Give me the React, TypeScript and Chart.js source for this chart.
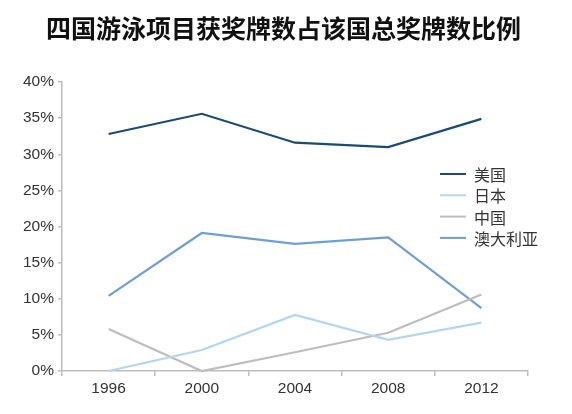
import React, { useEffect, useRef } from "react";
import { Chart, registerables } from "chart.js";

Chart.register(...registerables);

const TITLE = "四国游泳项目获奖牌数占该国总奖牌数比例";
const years = ["1996", "2000", "2004", "2008", "2012"];
const seriesNames = ["美国", "日本", "中国", "澳大利亚"];
const usa = [32.8, 35.6, 31.6, 31.0, 34.9];
const japan = [0, 2.9, 7.75, 4.3, 6.7];
const china = [5.8, 0, 2.6, 5.3, 10.6];
const australia = [10.4, 19.1, 17.6, 18.5, 8.7];
const colors = ["#1b4a74", "#b3d6ee", "#bdbdbd", "#6e9fd2"];

const FONT = "'Liberation Sans', 'Noto Sans CJK SC', sans-serif";
const CJK = "'Noto Sans CJK SC', sans-serif";

const legendPlugin = {
  id: "customLegend",
  afterDraw(chart: any) {
    const ctx = chart.ctx;
    ctx.save();
    const x0 = 440;
    const y0 = 174;
    const gap = 21.3;
    chart.data.datasets.forEach((ds: any, i: number) => {
      const y = y0 + i * gap;
      ctx.strokeStyle = ds.borderColor;
      ctx.lineWidth = 2;
      ctx.beginPath();
      ctx.moveTo(x0, y);
      ctx.lineTo(x0 + 26, y);
      ctx.stroke();
      ctx.fillStyle = "#333";
      ctx.font = "16px " + CJK;
      ctx.textBaseline = "middle";
      ctx.textAlign = "left";
      ctx.fillText(ds.label, x0 + 34, y + 1);
    });
    ctx.restore();
  },
};

export default function App() {
  const ref = useRef<HTMLCanvasElement | null>(null);
  useEffect(() => {
    if (!ref.current) return;
    const data = [usa, japan, china, australia];
    const chart = new Chart(ref.current, {
      type: "line",
      data: {
        labels: years,
        datasets: seriesNames.map((name, i) => ({
          label: name,
          data: data[i],
          borderColor: colors[i],
          backgroundColor: colors[i],
          borderWidth: 2.2,
          pointRadius: 0,
          tension: 0,
          clip: false as any,
        })),
      },
      options: {
        animation: false,
        responsive: false,
        devicePixelRatio: 1,
        layout: { padding: { left: 0, top: 82, right: 44, bottom: 0 } },
        plugins: {
          legend: { display: false },
          title: { display: false },
          tooltip: { enabled: false },
        },
        scales: {
          x: {
            type: "category",
            offset: true,
            grid: {
              offset: true,
              drawOnChartArea: false,
              drawTicks: true,
              tickLength: 5,
              color: "#bdbdbd",
              lineWidth: 1.5,
            },
            border: { color: "#bdbdbd", width: 1.5 },
            ticks: {
              color: "#333",
              font: { family: FONT, size: 15.5 },
              padding: 3,
              maxRotation: 0,
            },
            afterFit(scale: any) {
              scale.height = 43;
            },
          },
          y: {
            min: 0,
            max: 40,
            grid: {
              drawOnChartArea: false,
              drawTicks: true,
              tickLength: 4,
              color: "#bdbdbd",
              lineWidth: 1.5,
            },
            border: { color: "#bdbdbd", width: 1.5 },
            ticks: {
              stepSize: 5,
              color: "#333",
              font: { family: FONT, size: 15.5 },
              padding: 4,
              callback: (v: any) => v + "%",
            },
            afterFit(scale: any) {
              scale.width = 62;
            },
          },
        },
      },
      plugins: [legendPlugin],
    });
    return () => chart.destroy();
  }, []);

  return (
    <div
      style={{
        position: "absolute",
        left: 0,
        top: 0,
        width: 572,
        height: 414,
        background: "#fff",
      }}
    >
      <div
        style={{
          position: "absolute",
          left: 46,
          top: 13,
          fontFamily: CJK,
          fontWeight: 700,
          fontSize: 25,
          lineHeight: "29px",
          color: "#111",
          whiteSpace: "nowrap",
        }}
      >
        {TITLE}
      </div>
      <canvas ref={ref} width={572} height={414} />
    </div>
  );
}
